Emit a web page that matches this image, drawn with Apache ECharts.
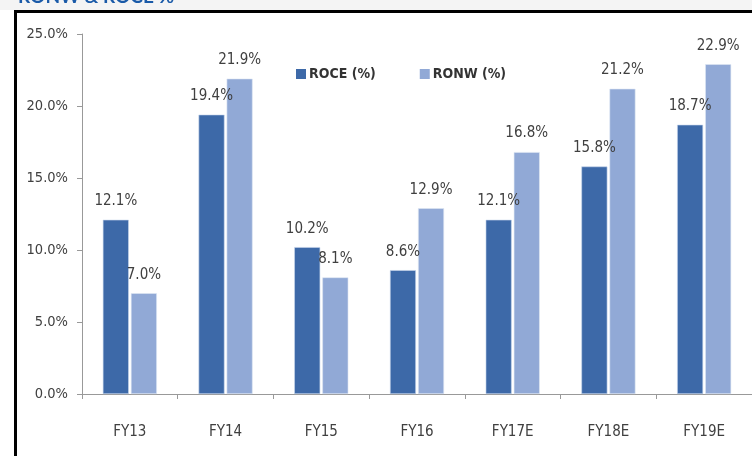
<!DOCTYPE html>
<html>
<head>
<meta charset="utf-8">
<script src="https://cdn.jsdelivr.net/npm/echarts@6/dist/echarts.min.js"></script>
<style>
  html, body { margin: 0; padding: 0; background: #fff; }
  #chart { width: 752px; height: 456px; }
</style>
</head>
<body>
<div id="chart"></div>
<script>
var years = ['FY13', 'FY14', 'FY15', 'FY16', 'FY17E', 'FY18E', 'FY19E'];
var roce = [12.1, 19.4, 10.2, 8.6, 12.1, 15.8, 18.7];
var ronw = [7.0, 21.9, 8.1, 12.9, 16.8, 21.2, 22.9];
var yTicks = [0, 5, 10, 15, 20, 25];

var font = '"DejaVu Sans Condensed", sans-serif';
var chart = echarts.init(document.getElementById('chart'));

var labelStyle = {
    show: true,
    position: 'top',
    distance: 11,
    fontFamily: font,
    fontSize: 15,
    color: '#404040',
    formatter: function (p) { return p.value.toFixed(1) + '%'; }
};

option = {
    animation: false,
    textStyle: { fontFamily: font },
    graphic: [
        // cut-off heading and the frame around the chart
        { type: 'text', left: 18, top: -13, style: { text: 'RONW & ROCE %', fontFamily: 'Lato, sans-serif', fontWeight: 'bold', fontSize: 19, fill: '#1a5aa8' } },
        { type: 'rect', shape: { x: 0, y: 0, width: 752, height: 10 }, style: { fill: '#f4f4f4' }, z: -1 },
        { type: 'line', shape: { x1: 14, y1: 11.5, x2: 752, y2: 11.5 }, style: { stroke: '#000', lineWidth: 3 } },
        { type: 'line', shape: { x1: 15.5, y1: 10, x2: 15.5, y2: 456 }, style: { stroke: '#000', lineWidth: 3 } }
    ],
    legend: {
        data: ['ROCE (%)', 'RONW (%)'],
        left: 291,
        top: 62,
        itemWidth: 10,
        itemHeight: 10,
        itemGap: 44,
        icon: 'rect',
        itemStyle: { borderWidth: 0 },
        textStyle: { fontFamily: font, fontSize: 14, fontWeight: 'bold', color: '#333', padding: [0, 0, 0, -2] }
    },
    grid: { left: 82, right: -7, top: 34, bottom: 62 },
    xAxis: {
        type: 'category',
        data: years,
        axisLine: { lineStyle: { color: '#999' } },
        axisTick: { show: true, length: 5, lineStyle: { color: '#999' } },
        axisLabel: { margin: 31, fontFamily: font, fontSize: 15, color: '#404040' }
    },
    yAxis: {
        type: 'value',
        min: yTicks[0],
        max: yTicks[yTicks.length - 1],
        interval: 5,
        axisLine: { show: true, lineStyle: { color: '#999' } },
        axisTick: { show: true, length: 5, lineStyle: { color: '#999' } },
        splitLine: { show: false },
        axisLabel: { margin: 14, fontFamily: font, fontSize: 14.5, color: '#404040',
            formatter: function (v) { return v.toFixed(1) + '%'; } }
    },
    series: [
        {
            name: 'ROCE (%)',
            type: 'bar',
            data: roce,
            barWidth: 26,
            barGap: '8%',
            itemStyle: { color: '#3d69a8', borderColor: '#c9d6ec', borderWidth: 0.6 },
            label: labelStyle
        },
        {
            name: 'RONW (%)',
            type: 'bar',
            data: ronw,
            barWidth: 26,
            barGap: '8%',
            itemStyle: { color: '#91a9d6', borderColor: '#dfe7f4', borderWidth: 0.6 },
            label: labelStyle
        }
    ]
};
chart.setOption(option);
</script>
</body>
</html>
